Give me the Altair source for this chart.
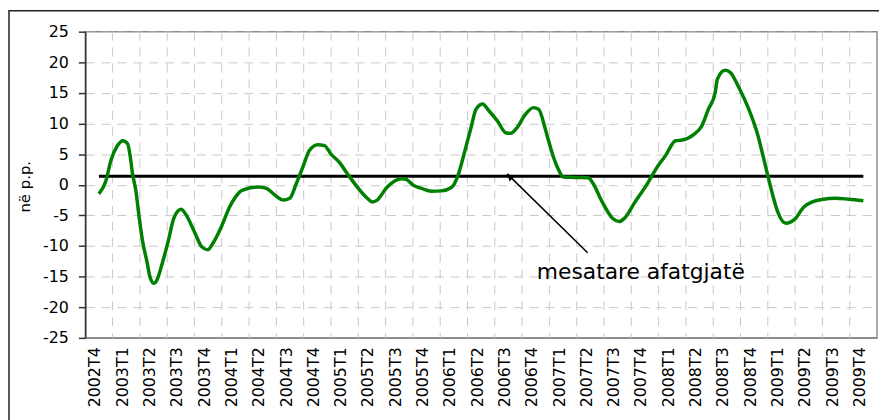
import altair as alt
import pandas as pd

# ---------------- data ----------------
quarters = ["2002T4",
            "2003T1", "2003T2", "2003T3", "2003T4",
            "2004T1", "2004T2", "2004T3", "2004T4",
            "2005T1", "2005T2", "2005T3", "2005T4",
            "2006T1", "2006T2", "2006T3", "2006T4",
            "2007T1", "2007T2", "2007T3", "2007T4",
            "2008T1", "2008T2", "2008T3", "2008T4",
            "2009T1", "2009T2", "2009T3", "2009T4"]

# position along the quarter axis (0 = 2002T4) and value (p.p.)
series_pos = [0.00, 0.26, 0.44, 0.68, 0.87, 1.05, 1.14, 1.23, 1.35, 1.47,
              1.59, 1.77, 1.86, 2.01, 2.13, 2.32, 2.55, 2.74, 3.01, 3.16,
              3.52, 3.76, 3.98, 4.18, 4.49, 4.79, 4.97, 5.24, 5.84, 6.14,
              6.45, 6.75, 6.99, 7.23, 7.47, 7.71, 8.01, 8.26, 8.50, 8.80,
              9.10, 9.46, 9.83, 10.01, 10.19, 10.55, 11.09, 11.27, 11.52, 11.82,
              12.18, 12.54, 12.91, 13.15, 13.39, 13.63, 13.81, 14.05, 14.29, 14.60,
              14.90, 15.08, 15.32, 15.62, 15.92, 16.11, 16.35, 16.47, 16.65, 16.83,
              17.01, 17.43, 17.92, 18.10, 18.40, 18.82, 19.06, 19.24, 19.61, 20.09,
              20.45, 20.76, 21.12, 21.36, 21.78, 22.08, 22.32, 22.57, 22.65, 22.93,
              23.11, 23.47, 23.78, 24.14, 24.32, 24.50, 24.68, 24.86, 25.16, 25.47,
              25.83, 26.13, 26.49, 26.97, 27.46, 28.00]
series_val = [-1.5, 0.7, 4.0, 6.4, 7.2, 6.7, 4.8, 1.8, -0.9, -5.2,
              -9.0, -12.8, -14.9, -16.1, -15.5, -12.8, -9.0, -5.5, -4.0, -4.7,
              -7.9, -10.1, -10.6, -9.5, -6.8, -3.6, -2.2, -0.9, -0.35, -0.6,
              -1.7, -2.5, -2.2, 0.2, 2.9, 5.6, 6.55, 6.4, 5.0, 3.7,
              1.8, -0.35, -2.2, -2.8, -2.5, -0.4, 1.0, 0.85, -0.1, -0.6,
              -1.05, -1.0, -0.45, 1.5, 5.3, 9.35, 12.3, 13.2, 12.05, 10.4,
              8.5, 8.4, 9.35, 11.5, 12.6, 12.3, 9.1, 7.2, 4.5, 2.5,
              1.26, 1.2, 1.15, 0.2, -2.5, -5.5, -6.0, -5.5, -3.0, 0.2,
              2.9, 4.8, 7.2, 7.3, 8.2, 9.6, 12.3, 15.0, 17.2, 18.7,
              18.4, 15.6, 12.6, 8.0, 4.8, 1.5, -1.7, -4.4, -6.3, -5.7,
              -3.6, -2.8, -2.4, -2.2, -2.35, -2.6]

mean_value = 1.4
mean_span = [0, 28]

annotation_text = "mesatare afatgjatë"
annotation_pos = [19.85, -14.2]
arrow_x = [17.9, 14.95]
arrow_y = [-11.1, 1.8]
arrow_head = [15.05, 1.35]

y_ticks = [-25, -20, -15, -10, -5, 0, 5, 10, 15, 20, 25]

# ---------------- tables ----------------
line_df = pd.DataFrame({"x": series_pos, "y": series_val})
grid_df = pd.DataFrame({"x": [i + 0.5 for i in range(len(quarters) - 1)]})
mean_df = pd.DataFrame({"x": [mean_span[0]], "x2": [mean_span[1]], "y": [mean_value]})
text_df = pd.DataFrame({"x": [annotation_pos[0]], "y": [annotation_pos[1]]})
arrow_df = pd.DataFrame({"x": arrow_x, "y": arrow_y})
head_df = pd.DataFrame({"x": [arrow_head[0]], "y": [arrow_head[1]]})
one_df = pd.DataFrame({"a": [0]})

FONT = "DejaVu Sans"
label_expr = "[" + ",".join("'" + q + "'" for q in quarters) + "][datum.value]"

xscale = alt.Scale(domain=[-0.5, len(quarters) - 0.5], nice=False, zero=False)
yscale = alt.Scale(domain=[-25, 25], nice=False, zero=False)

xaxis = alt.Axis(values=list(range(len(quarters))), labelExpr=label_expr,
                 labelAngle=270, labelFont=FONT, labelFontSize=16, labelColor="black",
                 labelPadding=9, labelOffset=-4, labelFlush=False, labelOverlap=False,
                 ticks=False, grid=False, domainColor="#8c8c8c", domainWidth=1.5,
                 title="")
yaxis = alt.Axis(values=y_ticks, labelExpr="'' + datum.value",
                 labelFont=FONT, labelFontSize=16, labelColor="black", labelPadding=10,
                 tickSize=7, tickColor="#333333", tickWidth=1.5,
                 domainColor="#333333", domainWidth=1.5,
                 grid=True, gridColor="#c8c8c8", gridDash=[9, 7], gridWidth=1,
                 title="në p.p.", titleFont=FONT, titleFontSize=15, titleFontWeight="normal",
                 titleColor="black", titleAngle=270, titleX=-61, titleY=156,
                 titleAlign="center", titleBaseline="middle")

X = alt.X("x:Q", scale=xscale, axis=xaxis)
Y = alt.Y("y:Q", scale=yscale, axis=yaxis)

grid = alt.Chart(grid_df).mark_rule(color="#c8c8c8", strokeDash=[9, 7], strokeWidth=1).encode(x=X)

line = alt.Chart(line_df).mark_line(color="#008000", strokeWidth=3.5,
                                    interpolate="monotone").encode(x=X, y=Y)

mean = alt.Chart(mean_df).mark_rule(color="black", strokeWidth=3).encode(
    x=X, x2="x2:Q", y=Y)

arrow = alt.Chart(arrow_df).mark_line(color="black", strokeWidth=1.5).encode(x=X, y=Y)
head = alt.Chart(head_df).mark_point(shape="triangle-up", filled=True, size=60,
                                     angle=314, color="black", opacity=1).encode(x=X, y=Y)

text = alt.Chart(text_df).mark_text(text=annotation_text, font=FONT, fontSize=22,
                                    align="center", baseline="middle",
                                    color="black").encode(x=X, y=Y)

frame = alt.Chart(one_df).mark_rect(fillOpacity=0, stroke="#222222", strokeWidth=1.5).encode(
    x=alt.value(-77), x2=alt.value(820), y=alt.value(-21), y2=alt.value(420))

chart = alt.layer(grid, mean, line, arrow, head, text, frame).properties(
    width=799, height=309,
    padding={"left": 78, "top": 22, "right": 2, "bottom": 81},
    autosize="none",
).configure_view(stroke="#8c8c8c", strokeWidth=1.5)

chart.save("out.html", embed_options={"renderer": "svg", "actions": False})
